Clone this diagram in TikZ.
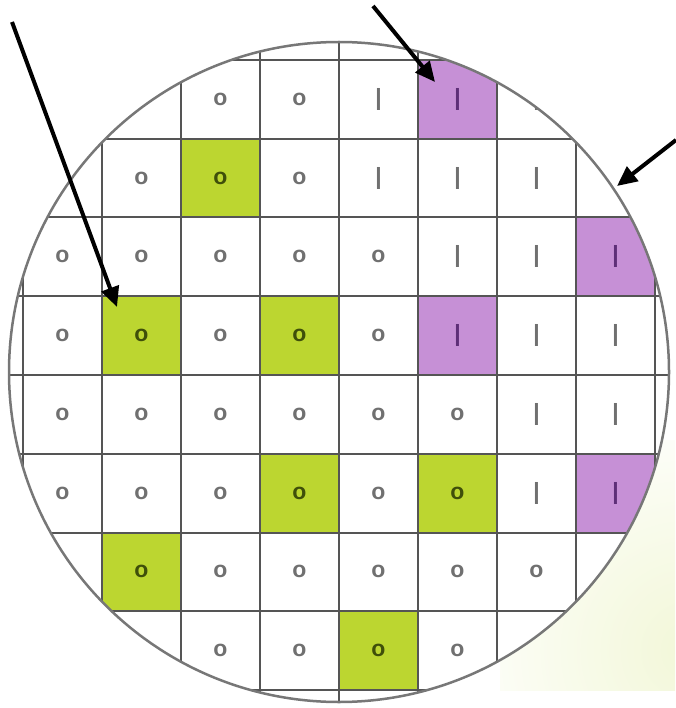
\documentclass[tikz,border=0pt]{standalone}
\usepackage{fontspec}
\setmainfont{Liberation Sans}
\usetikzlibrary{arrows.meta}
\definecolor{chipgreen}{HTML}{BCD630}
\definecolor{chippurple}{HTML}{C690D6}
\definecolor{gridgray}{HTML}{555555}
\definecolor{rimgray}{HTML}{777777}
\definecolor{txtgray}{HTML}{707070}
\definecolor{txtgreen}{HTML}{3F4F0A}
\definecolor{txtpurple}{HTML}{5E2F78}
\definecolor{bgtint}{HTML}{F2F7D8}
\begin{document}
\begin{tikzpicture}[x=1pt,y=-1pt,
  gridline/.style={draw=gridgray,line width=2pt},
  rim/.style={draw=rimgray,line width=2.5pt},
  greencell/.style={fill=chipgreen},
  purplecell/.style={fill=chippurple},
  glyph/.style={inner sep=0pt,outer sep=0pt},
  glyph-o/.style={glyph,font=\bfseries\fontsize{23}{23}\selectfont},
  glyph-I/.style={glyph,font=\fontsize{32}{32}\selectfont},
  kind-n/.style={text=txtgray},
  kind-g/.style={text=txtgreen},
  kind-p/.style={text=txtpurple},
  ptr/.style={draw=black,line width=4pt,-{Triangle[length=20pt,width=18pt]}}
]
\useasboundingbox (0,0) rectangle (675,708);
\begin{scope}
  \clip (500,440) rectangle (675,690);
  \shade[inner color=bgtint,outer color=white] (690,650) circle (260);
\end{scope}
\coordinate (ctr) at (339,372);
\begin{scope}
  \clip (ctr) circle (330);
  \fill[white] (ctr) circle (330);
  \foreach \c/\r in {2/1,1/3,3/3,3/5,5/5,1/6,4/7}
    \path[greencell] ({23+79*\c},{60+78.75*\r}) rectangle ++(79,78.75);
  \foreach \c/\r in {5/0,7/2,5/3,7/5}
    \path[purplecell] ({23+79*\c},{60+78.75*\r}) rectangle ++(79,78.75);
  \foreach \i in {0,...,8} {
    \draw[gridline] ({23+79*\i},0) -- ({23+79*\i},708);
    \draw[gridline] (0,{60+78.75*\i}) -- (675,{60+78.75*\i});
  }
  \foreach \r/\c/\t/\k in {
    0/1/o/n,0/2/o/n,0/3/o/n,0/4/I/n,0/5/I/p,0/6/I/n,
    1/1/o/n,1/2/o/g,1/3/o/n,1/4/I/n,1/5/I/n,1/6/I/n,
    2/0/o/n,2/1/o/n,2/2/o/n,2/3/o/n,2/4/o/n,2/5/I/n,2/6/I/n,2/7/I/p,
    3/0/o/n,3/1/o/g,3/2/o/n,3/3/o/g,3/4/o/n,3/5/I/p,3/6/I/n,3/7/I/n,
    4/0/o/n,4/1/o/n,4/2/o/n,4/3/o/n,4/4/o/n,4/5/o/n,4/6/I/n,4/7/I/n,
    5/0/o/n,5/1/o/n,5/2/o/n,5/3/o/g,5/4/o/n,5/5/o/g,5/6/I/n,5/7/I/p,
    6/1/o/g,6/2/o/n,6/3/o/n,6/4/o/n,6/5/o/n,6/6/o/n,6/7/I/n,
    7/1/o/n,7/2/o/n,7/3/o/n,7/4/o/g,7/5/o/n,7/6/o/n}
    \node[glyph-\t,kind-\k] (t-\r-\c) at ({62.5+79*\c},{99.4+78.75*\r}) {\t};
\end{scope}
\draw[rim] (ctr) circle (330);
\coordinate (a1s) at (12,22);   \coordinate (a1e) at (117,307);
\coordinate (a2s) at (373,6);   \coordinate (a2e) at (435,82);
\coordinate (a3s) at (676,140); \coordinate (a3e) at (617,186);
\draw[ptr] (a1s) -- (a1e);
\draw[ptr] (a2s) -- (a2e);
\draw[ptr] (a3s) -- (a3e);
\end{tikzpicture}
\end{document}
